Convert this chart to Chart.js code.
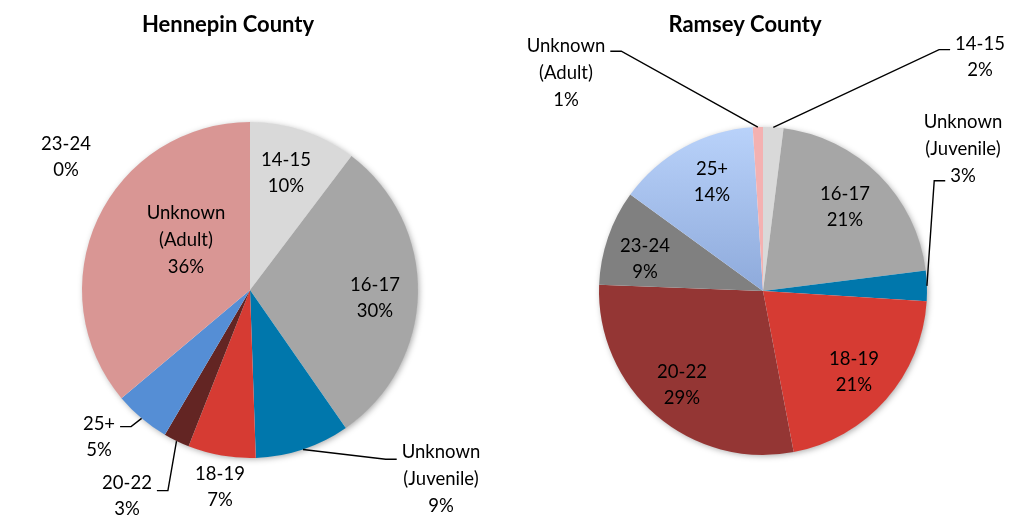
<!DOCTYPE html>
<html>
<head>
<meta charset="utf-8">
<script src="https://cdn.jsdelivr.net/npm/chart.js@4"></script>
<style>
body { margin: 0; background: #fff; width: 1009px; height: 529px; position: relative; overflow: hidden; }
.box { position: absolute; top: 0; height: 529px; }
#b1 { left: 0; width: 505px; }
#b2 { left: 505px; width: 504px; }
</style>
</head>
<body>
<div class="box" id="b1"><canvas id="cv1"></canvas></div>
<div class="box" id="b2"><canvas id="cv2"></canvas></div>
<script>
// Hennepin County (clockwise from 12 o'clock)
const hennepinLabels = ["14-15", "16-17", "Unknown (Juvenile)", "18-19", "20-22", "25+", "Unknown (Adult)", "23-24"];
const hennepinValues = [10.3, 30.0, 9.1, 6.5, 2.5, 5.4, 36.1, 0];

// Ramsey County (clockwise from 12 o'clock)
const ramseyLabels = ["14-15", "16-17", "Unknown (Juvenile)", "18-19", "20-22", "23-24", "25+", "Unknown (Adult)"];
const ramseyValues = [2, 21, 3, 21, 28.6, 9.4, 14, 1];

const FONT = "Lato, 'Open Sans', sans-serif";

// where each label sits relative to the pie centre, and its leader line if any
// lead.ln = text line the leader attaches to, lead.ay = offset from that line's middle
const hennepinPlaces = [
    { dx: 36, dy: -117 },
    { dx: 125, dy: 8 },
    { dx: 191, dy: 189, lead: { side: "left", ln: 0, ay: 7 } },
    { dx: -30, dy: 197 },
    { dx: -123, dy: 206, lead: { side: "right", ln: 0, ay: 8 } },
    { dx: -151, dy: 147, lead: { side: "right", ln: 0, ay: 3 } },
    { dx: -64, dy: -50 },
    { dx: -184, dy: -133 }
];

const ramseyPlaces = [
    { dx: 217, dy: -234, lead: { side: "left", ln: 0, ay: 6 } },
    { dx: 82, dy: -84 },
    { dx: 200, dy: -142, lead: { side: "left", ln: 2, ay: 5 } },
    { dx: 91, dy: 81 },
    { dx: -81, dy: 94 },
    { dx: -118, dy: -32 },
    { dx: -51, dy: -109 },
    { dx: -197, dy: -218, lead: { side: "right", ln: 0, ay: 5 } }
];

const sliceLabels = {
    id: "sliceLabels",
    beforeDatasetsDraw(chart) {
        // soft shadow under the pie
        const arc = chart.getDatasetMeta(0).data[0];
        const ctx = chart.ctx;
        ctx.save();
        ctx.shadowColor = "rgba(0,0,0,0.35)";
        ctx.shadowBlur = 6;
        ctx.shadowOffsetX = 1.5;
        ctx.shadowOffsetY = 1.5;
        ctx.fillStyle = "#fff";
        ctx.beginPath();
        ctx.arc(arc.x, arc.y, arc.outerRadius - 0.5, 0, Math.PI * 2);
        ctx.fill();
        ctx.restore();
    },
    afterDatasetsDraw(chart, args, opts) {
        const ctx = chart.ctx;
        const meta = chart.getDatasetMeta(0);
        const values = chart.data.datasets[0].data;
        const labels = chart.data.labels;
        ctx.save();

        // title
        const a0 = meta.data[0];
        ctx.font = "bold 22px " + FONT;
        ctx.fillStyle = "#000";
        ctx.textAlign = "center";
        ctx.textBaseline = "middle";
        ctx.fillText(opts.title, a0.x + opts.titleDx, opts.titleY);

        ctx.font = "18.5px " + FONT;
        const lineH = 26.8;

        meta.data.forEach(function (arc, i) {
            const place = opts.places[i];
            const lines = labels[i].split(" ");
            lines.push(Math.round(values[i]) + "%");
            const cx = arc.x + place.dx;
            const cy = arc.y + place.dy;
            const ys = [];
            lines.forEach(function (t, k) {
                ys.push(cy + (k - (lines.length - 1) / 2) * lineH);
                ctx.fillText(t, cx, ys[k]);
            });

            if (place.lead) {
                const p = arc.getProps(["x", "y", "startAngle", "endAngle", "outerRadius"], true);
                const mid = (p.startAngle + p.endAngle) / 2;
                const ex = p.x + Math.cos(mid) * p.outerRadius;
                const ey = p.y + Math.sin(mid) * p.outerRadius;
                const left = place.lead.side === "left";
                const w = ctx.measureText(lines[place.lead.ln]).width;
                const ax = left ? cx - w / 2 - 5 : cx + w / 2 + 5;
                const ay = ys[place.lead.ln] + place.lead.ay;
                const bx = left ? ax - 11 : ax + 11;
                ctx.strokeStyle = "#000";
                ctx.lineWidth = 1.4;
                ctx.beginPath();
                ctx.moveTo(ax, ay);
                ctx.lineTo(bx, ay);
                ctx.lineTo(ex, ey);
                ctx.stroke();
            }
        });
        ctx.restore();
    }
};

function makePie(id, labels, values, colors, pad, title, titleDx, places) {
    const canvas = document.getElementById(id);
    return new Chart(canvas, {
        type: "pie",
        data: {
            labels: labels,
            datasets: [{
                data: values,
                backgroundColor: colors,
                borderWidth: 0
            }]
        },
        options: {
            responsive: true,
            maintainAspectRatio: false,
            animation: false,
            layout: { padding: pad },
            plugins: {
                legend: { display: false },
                tooltip: { enabled: false },
                sliceLabels: { title: title, titleDx: titleDx, titleY: 25, places: places }
            }
        },
        plugins: [sliceLabels]
    });
}

const hennepinColors = ["#d9d9d9", "#a6a6a6", "#0077ac", "#d63b33", "#632523", "#558ed5", "#d99694", "#7f7f7f"];

function ramseyColor(c) {
    const base = ["#d9d9d9", "#a6a6a6", "#0077ac", "#d63b33", "#943634", "#808080", "#a3bdeb", "#f4b1b1"];
    const area = c.chart.chartArea;
    if (c.dataIndex === 6 && area) {
        const g = c.chart.ctx.createLinearGradient(0, area.top, 0, (area.top + area.bottom) / 2);
        g.addColorStop(0, "#b9d2fa");
        g.addColorStop(1, "#8eaadb");
        return g;
    }
    return base[c.dataIndex];
}

makePie("cv1", hennepinLabels, hennepinValues, hennepinColors,
    { left: 82, right: 87, top: 122, bottom: 71 }, "Hennepin County", -22, hennepinPlaces);

makePie("cv2", ramseyLabels, ramseyValues, ramseyColor,
    { left: 94, right: 82, top: 127, bottom: 74 }, "Ramsey County", -18, ramseyPlaces);
</script>
</body>
</html>
